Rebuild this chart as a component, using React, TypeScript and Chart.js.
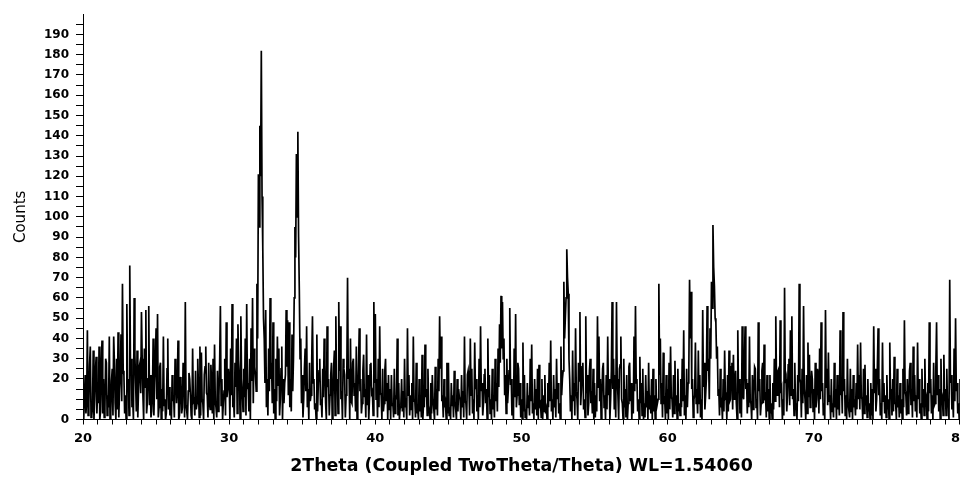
import React, { useEffect, useRef } from "react";
import { Chart, registerables } from "chart.js";

Chart.register(...registerables);

// Scan grid (2Theta, degrees)
const scanStart = 20;
const scanStep = 0.05;

const counts20s = [
  5, 0, 12, 22, 3, 9, 44, 2, 8, 27, 36, 1, 2, 6, 34, 0, 10, 24, 31, 3,
  14, 8, 36, 0, 4, 25, 39, 3, 20, 1, 6, 30, 28, 2, 12, 6, 41, 0, 3, 19,
  25, 2, 41, 28, 8, 0, 30, 5, 43, 1, 15, 22, 42, 9, 67, 24, 22, 3, 12, 0,
  57, 18, 20, 2, 76, 24, 30, 6, 10, 0, 60, 32, 18, 4, 34, 1, 15, 26, 28, 13,
  53, 30, 12, 0, 35, 16, 54, 3, 8, 20, 56, 7, 22, 1, 4, 12, 40, 2, 18, 28,
  45, 10, 52, 1, 6, 26, 28, 0, 15, 4, 41, 7, 10, 0, 3, 25, 40, 5, 16, 2,
  5, 0, 22, 9, 12, 1, 30, 24, 8, 16, 39, 0, 2, 21, 18, 3, 6, 28, 25, 1,
  58, 7, 4, 0, 14, 23, 20, 12, 2, 0, 35, 9, 10, 2, 24, 5, 8, 30, 16, 1,
  36, 2, 33, 10, 8, 0, 22, 26, 36, 13, 12, 1, 28, 8, 5, 27, 18, 3, 30, 0,
  37, 9, 6, 1, 24, 4, 12, 28, 56, 7, 20, 0, 8, 14, 30, 2, 48, 11, 15, 25,
];
const counts30s = [
  20, 0, 35, 12, 57, 6, 10, 1, 28, 16, 40, 3, 47, 29, 22, 0, 51, 20, 14, 4,
  25, 11, 40, 2, 57, 15, 18, 4, 30, 0, 45, 19, 60, 8, 35, 26, 22, 14, 67, 40,
  121, 95, 145, 120, 182, 110, 85, 50, 40, 18, 54, 6, 20, 2, 35, 14, 60, 20, 28, 8,
  48, 3, 15, 0, 30, 9, 41, 17, 35, 2, 10, 25, 36, 0, 20, 8, 18, 22, 54, 26,
  49, 12, 48, 6, 20, 4, 42, 14, 30, 60, 95, 80, 131, 100, 142, 90, 64, 30, 40, 8,
  22, 1, 10, 25, 35, 14, 46, 6, 15, 0, 28, 9, 12, 30, 51, 18, 20, 5, 8, 0,
  42, 4, 18, 24, 30, 7, 10, 1, 25, 11, 40, 27, 8, 0, 46, 16, 20, 2, 12, 22,
  28, 0, 10, 26, 34, 2, 51, 15, 20, 3, 58, 24, 46, 10, 14, 0, 30, 25, 22, 1,
  12, 22, 70, 20, 25, 0, 40, 9, 8, 28, 30, 12, 18, 4, 36, 0, 10, 26, 45, 14,
  20, 3, 8, 24, 32, 11, 15, 1, 42, 7, 22, 0, 10, 27, 28, 13, 14, 2, 58, 18,
];
const counts40s = [
  52, 10, 20, 1, 30, 6, 46, 13, 12, 0, 25, 4, 8, 24, 30, 9, 18, 0, 22, 5,
  15, 0, 22, 7, 8, 1, 25, 3, 12, 10, 40, 2, 18, 0, 6, 8, 20, 4, 14, 1,
  30, 6, 8, 0, 45, 12, 22, 2, 12, 5, 18, 0, 41, 9, 10, 1, 28, 3, 5, 0,
  20, 4, 12, 1, 32, 0, 8, 6, 37, 11, 15, 2, 25, 7, 5, 0, 18, 3, 22, 10,
  10, 0, 26, 5, 15, 2, 30, 14, 51, 25, 41, 9, 12, 1, 20, 6, 8, 0, 28, 3,
  28, 2, 6, 0, 18, 7, 12, 1, 24, 9, 5, 0, 20, 4, 15, 11, 10, 0, 22, 6,
  14, 1, 41, 9, 8, 0, 22, 24, 18, 2, 40, 12, 25, 3, 10, 0, 38, 15, 20, 4,
  12, 0, 30, 6, 46, 14, 18, 2, 8, 22, 25, 8, 15, 0, 40, 11, 22, 3, 10, 0,
  25, 5, 12, 1, 30, 9, 18, 4, 35, 16, 47, 28, 61, 35, 58, 30, 40, 12, 22, 3,
  30, 8, 15, 24, 55, 17, 20, 2, 8, 0, 35, 11, 52, 6, 12, 28, 25, 7, 18, 1,
];
const counts50s = [
  10, 0, 38, 4, 22, 1, 5, 0, 18, 6, 12, 2, 30, 9, 37, 3, 8, 0, 20, 5,
  15, 2, 25, 0, 27, 7, 8, 1, 20, 0, 12, 4, 22, 3, 5, 0, 18, 6, 28, 9,
  39, 4, 10, 0, 22, 6, 15, 1, 30, 10, 18, 3, 8, 0, 36, 12, 20, 24, 68, 40,
  50, 60, 84, 70, 62, 30, 20, 4, 12, 0, 34, 9, 18, 2, 45, 14, 10, 0, 28, 19,
  53, 7, 15, 26, 28, 5, 10, 1, 51, 13, 22, 2, 8, 24, 30, 8, 14, 3, 25, 0,
  18, 1, 12, 4, 51, 16, 41, 9, 20, 0, 10, 25, 28, 6, 12, 0, 22, 5, 41, 12,
  20, 0, 10, 24, 58, 15, 30, 5, 22, 1, 58, 20, 12, 0, 25, 27, 41, 10, 8, 0,
  30, 6, 15, 1, 22, 0, 8, 26, 28, 9, 18, 0, 12, 3, 41, 14, 56, 18, 20, 4,
  10, 0, 31, 8, 18, 2, 25, 0, 8, 1, 22, 6, 14, 0, 28, 5, 12, 3, 20, 0,
  25, 4, 12, 0, 20, 6, 8, 10, 67, 22, 40, 8, 18, 1, 33, 9, 10, 0, 22, 3,
];
const counts60s = [
  15, 0, 28, 5, 36, 11, 10, 1, 22, 3, 29, 7, 12, 0, 25, 4, 8, 2, 20, 6,
  30, 9, 44, 2, 12, 0, 25, 6, 18, 25, 69, 40, 63, 15, 20, 1, 10, 12, 38, 8,
  15, 3, 34, 8, 22, 1, 10, 0, 54, 16, 28, 5, 12, 20, 56, 24, 30, 10, 45, 30,
  68, 55, 96, 75, 66, 50, 48, 30, 36, 12, 15, 2, 25, 6, 8, 0, 20, 4, 34, 11,
  12, 0, 22, 4, 34, 9, 10, 26, 28, 5, 32, 10, 18, 24, 8, 0, 44, 13, 20, 3,
  15, 1, 46, 12, 10, 28, 46, 15, 20, 3, 18, 6, 41, 9, 8, 0, 22, 5, 12, 26,
  25, 6, 10, 0, 48, 14, 20, 2, 8, 24, 28, 8, 37, 11, 12, 1, 22, 4, 15, 0,
  22, 3, 8, 0, 18, 5, 30, 9, 51, 17, 12, 24, 25, 6, 49, 13, 15, 0, 10, 2,
  65, 18, 20, 4, 12, 27, 30, 7, 44, 12, 51, 10, 15, 2, 28, 5, 8, 0, 22, 9,
  67, 20, 18, 1, 25, 8, 56, 15, 10, 0, 22, 3, 38, 11, 32, 6, 12, 24, 20, 4,
];
const counts70s = [
  15, 0, 28, 6, 10, 25, 22, 3, 35, 10, 48, 14, 18, 2, 8, 0, 54, 16, 25, 7,
  33, 9, 12, 0, 20, 4, 8, 1, 28, 6, 15, 0, 22, 5, 10, 2, 44, 12, 18, 3,
  53, 14, 20, 2, 12, 0, 30, 8, 8, 1, 25, 4, 15, 0, 22, 6, 10, 2, 18, 5,
  37, 10, 22, 5, 38, 11, 10, 0, 25, 3, 27, 7, 12, 1, 20, 4, 8, 0, 18, 2,
  15, 0, 46, 13, 25, 4, 10, 26, 45, 12, 20, 2, 8, 0, 38, 9, 18, 3, 12, 1,
  22, 5, 10, 0, 38, 10, 15, 2, 20, 4, 31, 8, 8, 0, 25, 6, 12, 1, 18, 3,
  10, 0, 25, 6, 49, 14, 12, 2, 20, 3, 8, 24, 28, 7, 15, 1, 36, 9, 22, 4,
  12, 1, 38, 10, 20, 3, 8, 0, 25, 6, 15, 2, 30, 8, 10, 0, 18, 4, 48, 13,
  20, 3, 12, 0, 28, 7, 8, 25, 48, 12, 22, 4, 15, 0, 30, 8, 10, 2, 32, 9,
  15, 2, 25, 6, 10, 0, 69, 18, 22, 5, 12, 1, 35, 9, 50, 14, 18, 3, 8, 0,
];
const counts80 = [20];

// Axis tick labels
const xTickLabels = [20, 30, 40, 50, 60, 70, 80];
const yTickLabels = [0, 20, 30, 40, 50, 60, 70, 80, 90, 100, 110, 120, 130, 140, 150, 160, 170, 180, 190];

const xTitle = "2Theta (Coupled TwoTheta/Theta) WL=1.54060";
const yTitle = "Counts";

export default function App() {
  const canvasRef = useRef<HTMLCanvasElement | null>(null);

  useEffect(() => {
    const counts = [...counts20s, ...counts30s, ...counts40s, ...counts50s, ...counts60s, ...counts70s, ...counts80];
    const points = counts.map((c, i) => ({ x: +(scanStart + i * scanStep).toFixed(2), y: c }));

    const xMinor: number[] = [];
    for (let v = 20; v <= 80; v += 1) xMinor.push(v);
    const yMinor: number[] = [];
    for (let v = 0; v <= 195; v += 5) yMinor.push(v);

    const font = "'DejaVu Sans', 'Liberation Sans', sans-serif";

    const chart = new Chart(canvasRef.current as HTMLCanvasElement, {
      type: "line",
      data: {
        datasets: [
          {
            data: points,
            borderColor: "#000",
            borderWidth: 1.7,
            pointRadius: 0,
            tension: 0,
            fill: false,
          },
        ],
      },
      options: {
        animation: false,
        responsive: false,
        devicePixelRatio: 1,
        plugins: { legend: { display: false }, tooltip: { enabled: false } },
        layout: { padding: { left: 0, right: 12, top: 13, bottom: 0 } },
        scales: {
          x: {
            type: "linear",
            min: 20,
            max: 80,
            afterBuildTicks: (s: any) => {
              s.ticks = xMinor.map((v) => ({ value: v }));
            },
            afterFit: (s: any) => {
              s.height = 57.5;
            },
            ticks: {
              autoSkip: false,
              maxRotation: 0,
              padding: 6,
              color: "#000",
              font: { family: font, size: 13, weight: "bold" },
              callback: (v: any) => (xTickLabels.includes(Number(v)) ? String(v) : ""),
            },
            grid: { drawOnChartArea: false, tickLength: 5, color: "#000" },
            border: { color: "#000", width: 1 },
            title: {
              display: true,
              text: xTitle,
              color: "#000",
              font: { family: font, size: 17.4, weight: "bold" },
              padding: { top: 0, bottom: 0 },
            },
          },
          y: {
            type: "linear",
            min: 0,
            max: 200,
            afterBuildTicks: (s: any) => {
              s.ticks = yMinor.map((v) => ({ value: v }));
            },
            afterFit: (s: any) => {
              s.width = 83;
            },
            ticks: {
              autoSkip: false,
              padding: 7,
              color: "#000",
              font: { family: font, size: 12, weight: "bold" },
              callback: (v: any) => (yTickLabels.includes(Number(v)) ? String(v) : ""),
            },
            grid: { drawOnChartArea: false, tickLength: 7, color: "#000" },
            border: { color: "#000", width: 1 },
            title: {
              display: true,
              text: yTitle,
              color: "#000",
              font: { family: font, size: 15 },
              padding: { top: 12, bottom: 0 },
            },
          },
        },
      },
    } as any);

    return () => chart.destroy();
  }, []);

  return (
    <div
      style={{
        position: "fixed",
        left: 0,
        top: 0,
        width: 960,
        height: 477,
        overflow: "hidden",
        background: "#fff",
      }}
    >
      <canvas ref={canvasRef} width={975} height={477} style={{ display: "block" }} />
    </div>
  );
}
